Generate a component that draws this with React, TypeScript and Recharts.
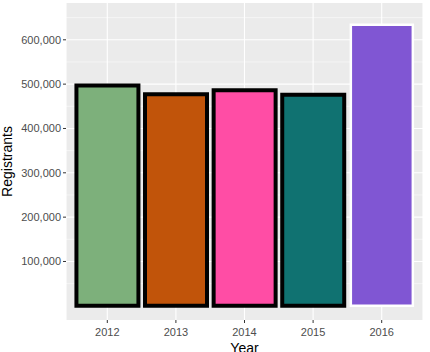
import { BarChart, Bar, XAxis, YAxis, CartesianGrid, Cell } from 'recharts';

const years = ['2012', '2013', '2014', '2015', '2016'];
const registrants = [497000, 477000, 486000, 476000, 634000];
const fills = ['#7DB07B', '#C1540A', '#FF4DA5', '#107271', '#8056D3'];
const outlines = ['#000000', '#000000', '#000000', '#000000', '#FFFFFF'];
const yTicks = [100000, 200000, 300000, 400000, 500000, 600000];
const minorTicks = [50000, 150000, 250000, 350000, 450000, 550000, 650000];

const data = years.map((year, i) => ({ year, value: registrants[i] }));

const fmt = (v: number) => v.toLocaleString('en-US');

const tickStyle = { fill: '#4D4D4D', stroke: 'none', fontSize: 11 };

export default function App() {
  return (
    <div style={{ position: 'absolute', left: 0, top: 0, fontFamily: 'Liberation Sans, Arial, sans-serif' }}>
      <BarChart
        width={430}
        height={352}
        data={data}
        margin={{ top: 3, right: 7, bottom: 0, left: 4 }}
        barCategoryGap="5%"
      >
        <CartesianGrid
          fill="#EBEBEB"
          stroke="#FFFFFF"
          strokeWidth={0.5}
          vertical={false}
          horizontalValues={minorTicks}
        />
        <CartesianGrid stroke="#FFFFFF" strokeWidth={1.1} horizontalValues={yTicks} />
        <XAxis
          dataKey="year"
          padding={{ left: 7, right: 7 }}
          stroke="#333333"
          axisLine={false}
          tickLine={{ stroke: '#333333' }}
          tickSize={3}
          tickMargin={5}
          tick={tickStyle}
          height={32}
          label={{ value: 'Year', position: 'insideBottom', offset: -1, fill: '#000', stroke: 'none', fontSize: 14 }}
        />
        <YAxis
          type="number"
          domain={[-32000, 683000]}
          allowDataOverflow
          ticks={yTicks}
          tickFormatter={fmt}
          stroke="#333333"
          axisLine={false}
          tickLine={{ stroke: '#333333' }}
          tickSize={3}
          tick={tickStyle}
          width={62}
          label={{ value: 'Registrants', angle: -90, position: 'insideLeft', offset: 3, fill: '#000', stroke: 'none', fontSize: 14, style: { textAnchor: 'middle' } }}
        />
        <Bar dataKey="value" isAnimationActive={false}>
          {data.map((d, i) => (
            <Cell key={d.year} fill={fills[i]} stroke={outlines[i]} strokeWidth={i === 4 ? 2.5 : 4} />
          ))}
        </Bar>
      </BarChart>
    </div>
  );
}
